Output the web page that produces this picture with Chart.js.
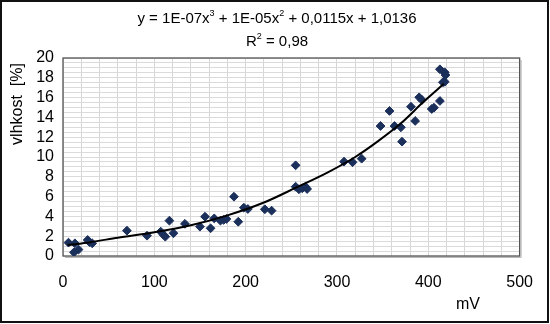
<!DOCTYPE html>
<html>
<head>
<meta charset="utf-8">
<script src="https://cdn.jsdelivr.net/npm/chart.js@4/dist/chart.umd.min.js"></script>
<style>
  html, body { margin: 0; padding: 0; background: #fff; }
  canvas { display: block; }
</style>
</head>
<body>
<canvas id="c" width="550" height="324"></canvas>
<script>
// Measured sensor output (mV) and moisture content (%)
const voltage = [
  6, 13, 12, 17, 27, 29, 32, 70, 92, 107, 110, 112, 116.5, 121, 133.5,
  150, 155.5, 161.6, 165.6, 172.4, 176, 179, 187.2, 191.9, 198, 202.4, 221, 228.4,
  254.7, 254.7, 258.3, 262, 265.5, 267.3, 307.7, 317, 327,
  347.7, 357.5, 363, 370, 371.2, 381, 385.6, 390, 393, 403.7, 406.2,
  412.7, 412.7, 418, 418.8, 416, 418
];
const moisture = [
  1.35, 1.28, 0.37, 0.65, 1.62, 1.4, 1.28, 2.56, 2.05, 2.46, 2.15, 1.95, 3.57, 2.3, 3.25,
  2.96, 3.97, 2.8, 3.8, 3.57, 3.65, 3.74, 5.99, 3.46, 4.88, 4.75, 4.72, 4.58,
  9.16, 7.0, 6.74, 6.84, 7.0, 6.77, 9.53, 9.47, 9.83,
  13.13, 14.65, 13.13, 13.0, 11.55, 15.08, 13.64, 16.03, 15.76, 14.85, 14.98,
  15.66, 18.86, 18.55, 18.28, 17.55, 17.6
];

// Third-order trend curve
const trendVoltage  = [5, 30, 60, 100, 140, 180, 220, 255, 290, 320, 345, 370, 395, 417];
const trendMoisture = [1.1, 1.4, 1.85, 2.4, 3.1, 4.1, 5.4, 6.9, 8.45, 10.0, 11.6, 13.4, 15.6, 17.4];

const xTickLabels = [0, 100, 200, 300, 400, 500];
const yTickLabels = [0, 2, 4, 6, 8, 10, 12, 14, 16, 18, 20];

const FONT = "'Liberation Sans', Arial, sans-serif";

const pointData = voltage.map((v, i) => ({ x: v, y: moisture[i] }));
const trendData = trendVoltage.map((v, i) => ({ x: v, y: trendMoisture[i] }));

// Draws text made of normal and superscript runs, centred on cx
function drawRuns(ctx, runs, cx, cy, size) {
  const supSize = Math.round(size * 0.62);
  let total = 0;
  runs.forEach(r => {
    ctx.font = (r.sup ? supSize : size) + 'px ' + FONT;
    r.w = ctx.measureText(r.t).width;
    total += r.w;
  });
  let x = cx - total / 2;
  ctx.textAlign = 'left';
  ctx.textBaseline = 'alphabetic';
  runs.forEach(r => {
    ctx.font = (r.sup ? supSize : size) + 'px ' + FONT;
    ctx.fillText(r.t, x, cy + (r.sup ? -size * 0.45 : 0));
    x += r.w;
  });
}

const decor = {
  id: 'decor',
  beforeDatasetsDraw(chart) {
    const { ctx, chartArea: a } = chart;
    ctx.save();
    // plot area frame with a soft shadow on the right and bottom
    ctx.strokeStyle = '#b8b8b8';
    ctx.lineWidth = 1;
    ctx.beginPath();
    ctx.moveTo(a.right + 1.5, a.top + 2);
    ctx.lineTo(a.right + 1.5, a.bottom + 1.5);
    ctx.lineTo(a.left + 2, a.bottom + 1.5);
    ctx.stroke();
    ctx.strokeStyle = '#555';
    ctx.lineWidth = 1.3;
    ctx.strokeRect(a.left, a.top, a.right - a.left, a.bottom - a.top);
    ctx.restore();
  },
  afterDraw(chart) {
    const { ctx } = chart;
    ctx.save();
    ctx.fillStyle = '#000';
    drawRuns(ctx, [
      { t: 'y = 1E-07x' }, { t: '3', sup: true },
      { t: ' + 1E-05x' }, { t: '2', sup: true },
      { t: ' + 0,0115x + 1,0136' }
    ], 277, 23, 15);
    drawRuns(ctx, [
      { t: 'R' }, { t: '2', sup: true }, { t: ' = 0,98' }
    ], 277, 46, 15);

    // axis titles
    ctx.font = '16px ' + FONT;
    ctx.textAlign = 'center';
    ctx.textBaseline = 'middle';
    ctx.fillText('mV', 468, 305);
    ctx.translate(18, 104);
    ctx.rotate(-Math.PI / 2);
    ctx.fillText('vlhkost  [%]', 0, 0);
    ctx.restore();

    // outer frame
    ctx.save();
    ctx.strokeStyle = '#111';
    ctx.lineWidth = 2;
    ctx.strokeRect(1, 1, 547, 321);
    ctx.restore();
  }
};

new Chart(document.getElementById('c'), {
  type: 'scatter',
  data: {
    datasets: [
      {
        data: trendData,
        showLine: true,
        borderColor: '#000',
        borderWidth: 2,
        pointRadius: 0,
        cubicInterpolationMode: 'monotone',
        fill: false,
        order: 0
      },
      {
        data: pointData,
        pointStyle: 'rectRot',
        pointRadius: 4.4,
        backgroundColor: '#1b2f5b',
        borderColor: '#1b2f5b',
        borderWidth: 1,
        order: 1
      }
    ]
  },
  options: {
    responsive: false,
    animation: false,
    devicePixelRatio: 1,
    layout: { padding: { left: 0, right: 25, top: 58, bottom: 0 } },
    plugins: { legend: { display: false }, tooltip: { enabled: false } },
    scales: {
      x: {
        type: 'linear',
        min: 0, max: 500,
        afterFit(s) { s.height = 68; },
        border: { display: false },
        grid: { color: '#d6d6d6', lineWidth: 1, drawTicks: false },
        ticks: {
          stepSize: 20, autoSkip: false, maxTicksLimit: 200, maxRotation: 0,
          padding: 17, color: '#000', font: { family: FONT, size: 16 },
          callback: v => xTickLabels.includes(v) ? String(v) : ''
        }
      },
      y: {
        type: 'linear',
        min: 0, max: 20,
        afterFit(s) { s.width = 63; },
        border: { display: false },
        grid: { color: '#dadada', lineWidth: 1, drawTicks: false },
        ticks: {
          stepSize: 0.5, autoSkip: false, maxTicksLimit: 200,
          padding: 9, color: '#000', font: { family: FONT, size: 16 },
          callback: v => yTickLabels.includes(v) ? String(v) : ''
        }
      }
    }
  },
  plugins: [decor]
});
</script>
</body>
</html>
